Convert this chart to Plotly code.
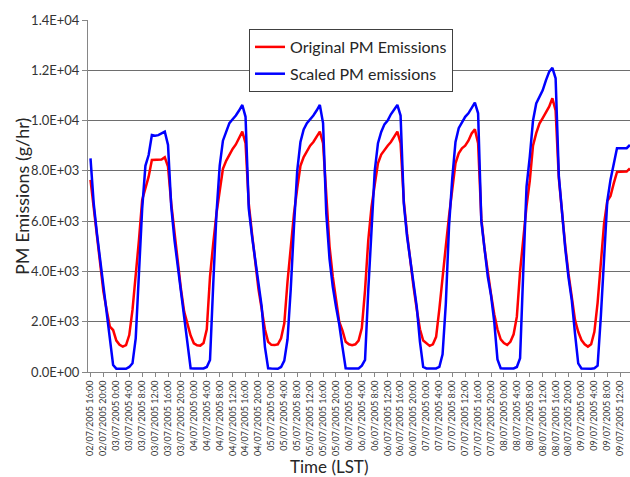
import plotly.graph_objects as go

# Hourly PM emissions (g/hr), starting 02/07/2005 16:00 (LST)
red_02 = [7640, 6500, 5300, 4300, 3200, 2470, 1800, 1670]
blue_02 = [8500, 6700, 5500, 4450, 3260, 2200, 1140, 280]

red_03 = [1250, 1080, 1010, 1070, 1470, 2470, 3800, 5250, 6840, 7300, 7770, 8430,
          8430, 8430, 8450, 8540, 8170, 6700, 5500, 4400, 3300, 2400, 1900, 1450]
blue_03 = [133, 130, 130, 130, 200, 345, 1340, 3880, 6500, 8200, 8630, 9425,
           9400, 9420, 9490, 9560, 9030, 6580, 5250, 4200, 3300, 2200, 1100, 150]

red_04 = [1140, 1060, 1050, 1150, 1700, 3790, 5120, 6300, 7200, 8080, 8400, 8650,
          8870, 9050, 9300, 9560, 9100, 6700, 5500, 4400, 3300, 2500, 1700, 1200]
blue_04 = [140, 130, 130, 140, 200, 480, 3500, 6300, 8200, 9200, 9550, 9900,
           10050, 10200, 10400, 10620, 10150, 6500, 5400, 4400, 3400, 2600, 1000, 150]

red_05 = [1080, 1070, 1100, 1340, 1935, 3600, 5000, 6300, 7300, 8200, 8550, 8800,
          9000, 9150, 9350, 9560, 9100, 6800, 5000, 3800, 2900, 2000, 1650, 1200]
blue_05 = [140, 130, 130, 200, 450, 1300, 3300, 5800, 8000, 9150, 9650, 9900,
           10050, 10200, 10400, 10620, 9900, 6300, 4500, 3400, 2600, 1900, 1000, 150]

red_06 = [1100, 1070, 1100, 1250, 1750, 3260, 5250, 6570, 7450, 8300, 8650, 8850,
          9000, 9150, 9350, 9560, 9100, 6800, 5500, 4400, 3400, 2500, 1700, 1250]
blue_06 = [140, 130, 130, 140, 250, 480, 3260, 5900, 8000, 9100, 9550, 9850,
           10000, 10250, 10450, 10620, 10200, 6700, 5400, 4400, 3600, 2600, 1200, 200]

red_07 = [1150, 1040, 1100, 1400, 2500, 3900, 5000, 6200, 7300, 8300, 8700, 8900,
          9000, 9200, 9490, 9650, 9100, 6100, 4900, 3900, 3100, 2300, 1700, 1300]
blue_07 = [140, 130, 130, 140, 200, 700, 2700, 5800, 7700, 9150, 9700, 9950,
           10150, 10290, 10500, 10710, 10290, 6000, 4900, 3800, 3050, 2000, 500, 150]

red_08 = [1150, 1080, 1200, 1500, 2200, 4000, 5400, 6600, 7600, 9000, 9500, 9880,
          10100, 10300, 10550, 10885, 10400, 7700, 6300, 5000, 3900, 2900, 2070, 1600]
blue_08 = [140, 130, 130, 140, 200, 550, 4050, 7370, 8560, 10000, 10680, 10950,
           11200, 11600, 11940, 12100, 11680, 7800, 6200, 4900, 3750, 2860, 1540, 345]

red_09 = [1270, 1100, 1010, 1100, 1600, 2750, 4200, 5900, 6800, 7000, 7500, 7950,
          7960, 7960, 7970, 8100]
blue_09 = [140, 130, 130, 130, 150, 250, 2200, 4700, 6800, 7650, 8270, 8900,
           8900, 8900, 8900, 9030]

original = red_02 + red_03 + red_04 + red_05 + red_06 + red_07 + red_08 + red_09
scaled = blue_02 + blue_03 + blue_04 + blue_05 + blue_06 + blue_07 + blue_08 + blue_09
hours = list(range(len(original)))

tick_labels = [
    "02/07/2005 16:00", "02/07/2005 20:00",
    "03/07/2005 0:00", "03/07/2005 4:00", "03/07/2005 8:00", "03/07/2005 12:00", "03/07/2005 16:00", "03/07/2005 20:00",
    "04/07/2005 0:00", "04/07/2005 4:00", "04/07/2005 8:00", "04/07/2005 12:00", "04/07/2005 16:00", "04/07/2005 20:00",
    "05/07/2005 0:00", "05/07/2005 4:00", "05/07/2005 8:00", "05/07/2005 12:00", "05/07/2005 16:00", "05/07/2005 20:00",
    "06/07/2005 0:00", "06/07/2005 4:00", "06/07/2005 8:00", "06/07/2005 12:00", "06/07/2005 16:00", "06/07/2005 20:00",
    "07/07/2005 0:00", "07/07/2005 4:00", "07/07/2005 8:00", "07/07/2005 12:00", "07/07/2005 16:00", "07/07/2005 20:00",
    "08/07/2005 0:00", "08/07/2005 4:00", "08/07/2005 8:00", "08/07/2005 12:00", "08/07/2005 16:00", "08/07/2005 20:00",
    "09/07/2005 0:00", "09/07/2005 4:00", "09/07/2005 8:00", "09/07/2005 12:00",
]
tick_hours = list(range(0, 4 * len(tick_labels), 4))

y_ticks = [0, 2000, 4000, 6000, 8000, 10000, 12000, 14000]
y_labels = ["0.0E+00", "2.0E+03", "4.0E+03", "6.0E+03", "8.0E+03", "1.0E+04", "1.2E+04", "1.4E+04"]

FONT = "Lato, 'Open Sans', sans-serif"

fig = go.Figure()
fig.add_trace(go.Scatter(x=hours, y=original, mode="lines", name="Original PM Emissions",
                         line=dict(color="#ff0000", width=2.5), legendgroup="a"))
fig.add_trace(go.Scatter(x=hours, y=scaled, mode="lines", name="Scaled PM emissions",
                         line=dict(color="#0000ff", width=2.5), legendgroup="b"))

L, R, T, B = 88, 0, 20, 105
W, H = 630, 477
pw, ph = W - L - R, H - T - B

fig.update_layout(
    width=W, height=H,
    margin=dict(l=L, r=R, t=T, b=B),
    paper_bgcolor="white", plot_bgcolor="white",
    font=dict(family=FONT, color="#262626"),
    showlegend=True,
    legend=dict(
        x=(249 - L) / pw, y=(H - B - 29) / ph, xanchor="left", yanchor="top",
        bgcolor="white", bordercolor="#404040", borderwidth=1,
        font=dict(family=FONT, size=16, color="#262626"),
        traceorder="grouped", tracegroupgap=3,
    ),
    xaxis=dict(
        range=[-0.774, 167.03],
        tickmode="array", tickvals=tick_hours, ticktext=tick_labels,
        tickangle=-90, tickfont=dict(family=FONT, size=9, color="#333333"),
        ticks="outside", ticklen=4, tickcolor="#868686",
        showline=True, linecolor="#868686", linewidth=1,
        showgrid=False, zeroline=False,
    ),
    yaxis=dict(
        range=[0, 14000],
        tickmode="array", tickvals=y_ticks, ticktext=y_labels,
        tickfont=dict(family=FONT, size=13, color="#333333"),
        ticks="outside", ticklen=5, tickcolor="#868686",
        showline=True, linecolor="#868686", linewidth=1,
        showgrid=True, gridcolor="#6e6e6e", gridwidth=1,
        zeroline=False,
    ),
    annotations=[
        dict(text="PM Emissions (g/hr)", xref="paper", yref="paper",
             x=(22 - L) / pw, y=(H - B - 197) / ph, textangle=-90,
             xanchor="center", yanchor="middle",
             showarrow=False, font=dict(family=FONT, size=18, color="#262626")),
        dict(text="Time (LST)", xref="paper", yref="paper",
             x=(329 - L) / pw, y=(H - B - 466) / ph,
             xanchor="center", yanchor="middle",
             showarrow=False, font=dict(family=FONT, size=17, color="#262626")),
    ],
)

fig.write_html("out.html")
